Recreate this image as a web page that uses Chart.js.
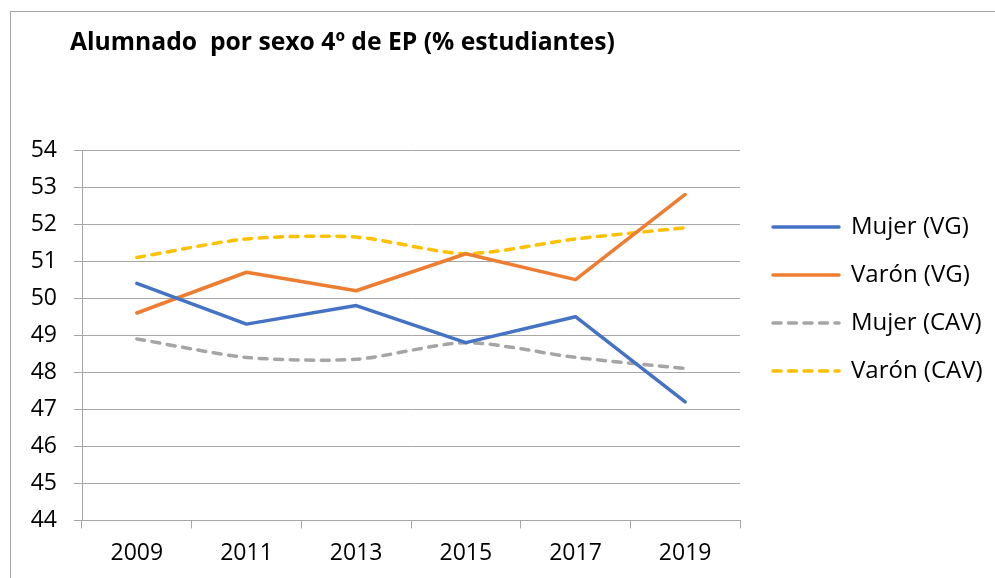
<!DOCTYPE html>
<html>
<head>
<meta charset="utf-8">
<script src="https://cdn.jsdelivr.net/npm/chart.js@4"></script>
<style>
  html, body { margin: 0; padding: 0; background: #fff; overflow: hidden; }
  #wrap { position: relative; width: 995px; height: 578px; }
  #frame { position: absolute; left: 10px; top: 11px; width: 1100px; height: 700px; border: 1px solid #a6a6a6; }
  canvas { position: absolute; left: 0; top: 0; }
</style>
</head>
<body>
<div id="wrap">
  <div id="frame"></div>
  <canvas id="chart" width="995" height="578"></canvas>
</div>
<script>
const years = ['2009', '2011', '2013', '2015', '2017', '2019'];
const mujerVG = [50.4, 49.3, 49.8, 48.8, 49.5, 47.2];
const varonVG = [49.6, 50.7, 50.2, 51.2, 50.5, 52.8];
const mujerCAV = [48.9, 48.4, 48.35, 48.8, 48.4, 48.1];
const varonCAV = [51.1, 51.6, 51.65, 51.2, 51.6, 51.9];

const family = '"Open Sans", sans-serif';
const gridGray = '#a6a6a6';

// moves the title and legend blocks after layout
const blockShift = {
  id: 'blockShift',
  afterLayout(chart, args, opts) {
    chart.titleBlock.left += opts.titleX;
    chart.legend.left += opts.legendX;
    chart.legend.right = chart.width;
    chart.legend.top += opts.legendY;
  }
};

function solid(label, data, color) {
  return {
    label, data,
    borderColor: color, backgroundColor: color,
    borderWidth: 3.5, borderCapStyle: 'round', borderJoinStyle: 'round',
    pointRadius: 0, tension: 0
  };
}

function dashed(label, data, color) {
  return {
    label, data,
    borderColor: color, backgroundColor: color,
    borderWidth: 3.5, borderCapStyle: 'round', borderDash: [8, 7.5],
    pointRadius: 0, tension: 0.25
  };
}

// legend samples take the line style of each series
function lineLabels(chart) {
  const items = Chart.defaults.plugins.legend.labels.generateLabels(chart);
  items.forEach(item => {
    const ds = chart.data.datasets[item.datasetIndex];
    item.strokeStyle = ds.borderColor;
    item.lineWidth = ds.borderWidth;
    item.lineCap = ds.borderCapStyle;
    item.lineDash = ds.borderDash || [];
  });
  return items;
}

new Chart(document.getElementById('chart'), {
  type: 'line',
  data: {
    labels: years,
    datasets: [
      solid('Mujer (VG)', mujerVG, '#4472c4'),
      solid('Varón (VG)', varonVG, '#ed7d31'),
      dashed('Mujer (CAV)', mujerCAV, '#a5a5a5'),
      dashed('Varón (CAV)', varonCAV, '#ffc000')
    ]
  },
  options: {
    responsive: false,
    animation: false,
    layout: { padding: { left: 0, right: 25, top: 0, bottom: 0 } },
    plugins: {
      title: {
        display: true,
        text: 'Alumnado  por sexo 4º de EP (% estudiantes)',
        align: 'start',
        color: '#000',
        font: { family, size: 24.7, weight: 'bold' },
        padding: { top: 28.2, bottom: 92.2 }
      },
      legend: {
        position: 'right',
        align: 'start',
        maxWidth: 230,
        labels: {
          usePointStyle: true,
          pointStyle: 'line',
          pointStyleWidth: 66,
          padding: 24,
          color: '#000',
          font: { family, size: 24 },
          generateLabels: lineLabels
        }
      },
      blockShift: { titleX: 70, legendX: 9, legendY: 191 },
      tooltip: { enabled: false }
    },
    scales: {
      x: {
        offset: true,
        grid: { offset: true, drawOnChartArea: false, color: gridGray, tickLength: 8 },
        border: { color: gridGray },
        ticks: { padding: 11, color: '#000', maxRotation: 0, font: { family, size: 23 } }
      },
      y: {
        min: 44,
        max: 54,
        grid: { color: gridGray, tickLength: 8 },
        border: { color: gridGray },
        ticks: { stepSize: 1, padding: 17, color: '#000', font: { family, size: 23 } },
        afterFit(scale) { scale.width = 82; }
      }
    }
  },
  plugins: [blockShift]
});
</script>
</body>
</html>
